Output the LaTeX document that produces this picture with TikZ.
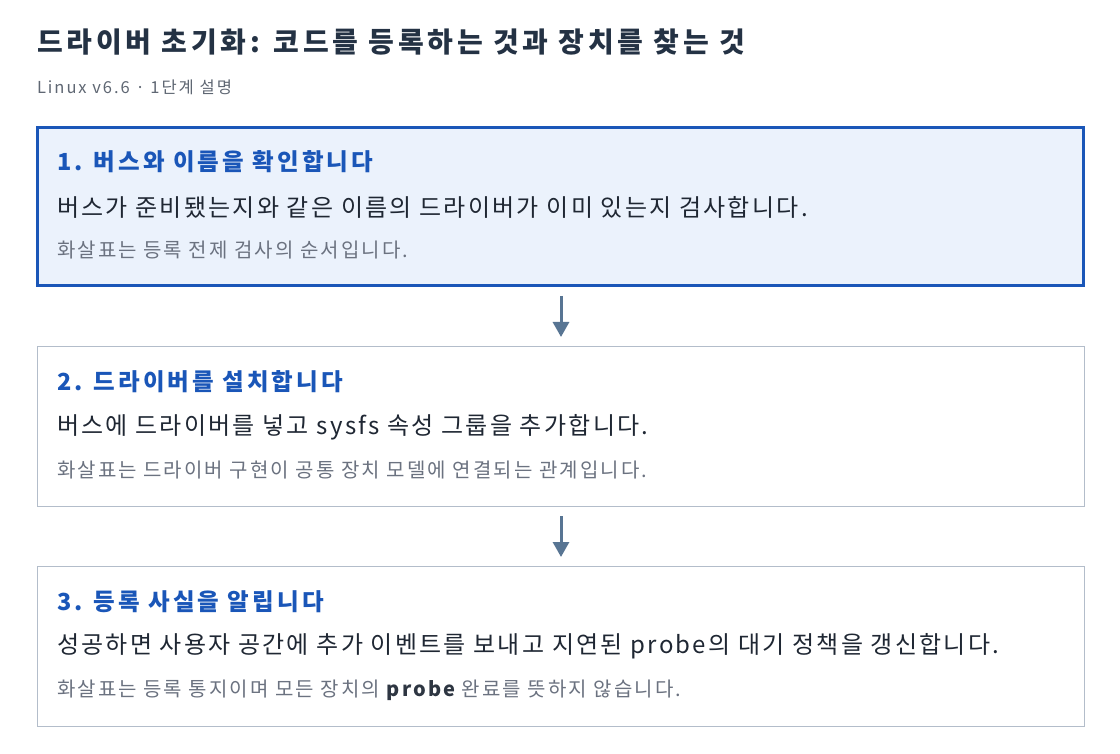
\documentclass[tikz,border=0pt]{standalone}
\usepackage{fontspec}
\setmainfont{Noto Sans CJK KR}
\usetikzlibrary{arrows.meta}
\definecolor{titlec}{HTML}{243244}
\definecolor{subc}{HTML}{5F6773}
\definecolor{bluec}{HTML}{1A56B8}
\definecolor{fillc}{HTML}{EBF2FC}
\definecolor{grayb}{HTML}{B3BDCA}
\definecolor{arrc}{HTML}{587593}
\definecolor{bodyc}{HTML}{1F2733}
\definecolor{notec}{HTML}{6B7280}
\tikzset{
  x=1pt,y=-1pt,
  txt/.style={anchor=west,inner sep=0pt,outer sep=0pt},
  titletxt/.style={txt,font=\fontsize{28}{32}\selectfont\bfseries\addfontfeature{LetterSpace=13.5},text=titlec},
  subtxt/.style={txt,font=\fontsize{16.5}{20}\selectfont\addfontfeature{LetterSpace=12},text=subc},
  headtxt/.style={txt,font=\fontsize{23.5}{28}\selectfont\bfseries\addfontfeature{LetterSpace=13},text=bluec},
  bodytxt/.style={txt,font=\fontsize{24}{28}\selectfont\addfontfeature{LetterSpace=9.5},text=bodyc},
  notetxt/.style={txt,font=\fontsize{20}{24}\selectfont\addfontfeature{LetterSpace=10.5},text=notec},
  activebox/.style={draw=bluec,line width=3pt,fill=fillc},
  plainbox/.style={draw=grayb,line width=1pt,fill=white},
  flow/.style={draw=arrc,line width=3pt,-{Triangle[width=16pt,length=15pt]}},
}
\begin{document}
\begin{tikzpicture}
\useasboundingbox[fill=white] (0,0) rectangle (1120,754);
\node[titletxt] (title) at (37,42.5) {드라이버 초기화: 코드를 등록하는 것과 장치를 찾는 것};
\node[subtxt] (sub) at (37,87) {Linux v6.6 · 1단계 설명};

\draw[activebox] (37.5,127.5) rectangle (1083.5,285.5);
\node[headtxt] (h1) at (57,162) {1. 버스와 이름을 확인합니다};
\node[bodytxt] (t1) at (57,207) {버스가 준비됐는지와 같은 이름의 드라이버가 이미 있는지 검사합니다.};
\node[notetxt] (n1) at (57,250) {화살표는 등록 전제 검사의 순서입니다.};

\draw[plainbox] (37,346.5) rectangle (1084,506);
\coordinate (b2t) at (561,337);
\coordinate (b2b) at (561,516);
\node[headtxt] (h2) at (57,382) {2. 드라이버를 설치합니다};
\node[bodytxt] (t2) at (57,427) {버스에 드라이버를 넣고 sysfs 속성 그룹을 추가합니다.};
\node[notetxt] (n2) at (57,470) {화살표는 드라이버 구현이 공통 장치 모델에 연결되는 관계입니다.};

\draw[plainbox] (37,566.5) rectangle (1084,726);
\coordinate (b3t) at (561,557);
\node[headtxt] (h3) at (57,602) {3. 등록 사실을 알립니다};
\node[bodytxt] (t3) at (57,646) {성공하면 사용자 공간에 추가 이벤트를 보내고 지연된 probe의 대기 정책을 갱신합니다.};
\node[notetxt] (n3) at (57,690) {화살표는 등록 통지이며 모든 장치의 {\bfseries\color{bodyc!80!notec}probe} 완료를 뜻하지 않습니다.};

\coordinate (a1s) at (561,296);
\draw[flow] (a1s) -- (b2t);
\draw[flow] (b2b) -- (b3t);
\end{tikzpicture}
\end{document}
